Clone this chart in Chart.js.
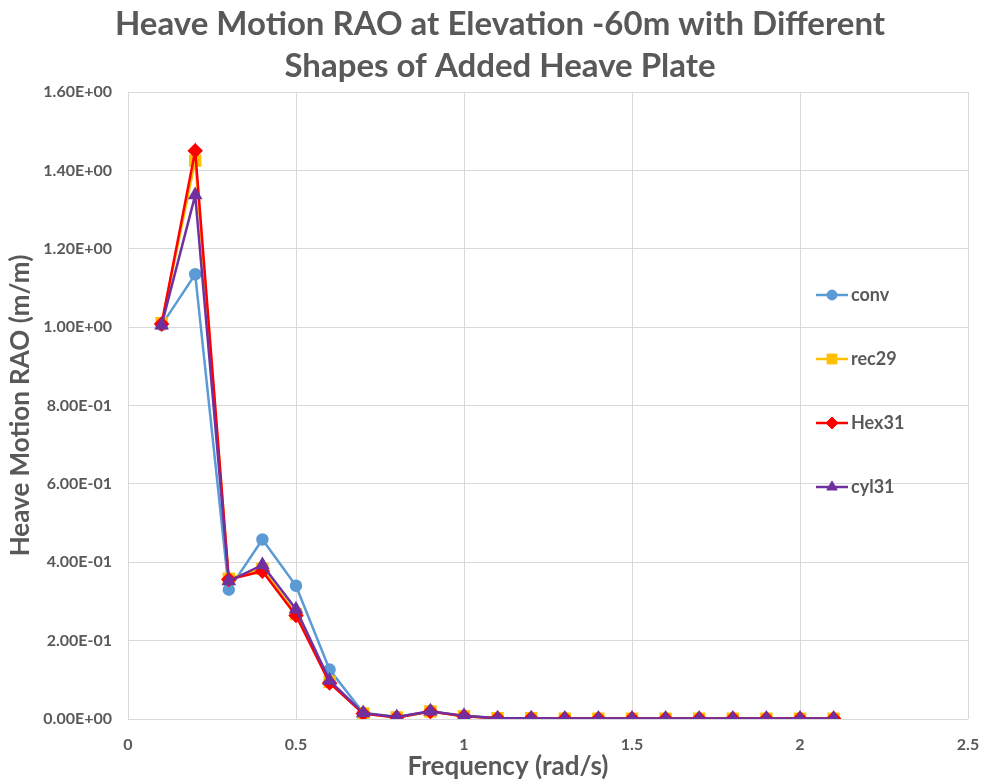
<!DOCTYPE html>
<html>
<head>
<meta charset="utf-8">
<script src="https://cdn.jsdelivr.net/npm/chart.js@4/dist/chart.umd.min.js"></script>
<style>
  html, body { margin: 0; padding: 0; background: #fff; }
  #wrap { width: 982px; height: 782px; }
</style>
</head>
<body>
<div id="wrap"><canvas id="raoChart"></canvas></div>
<script>
// Data
const freq = [0.1, 0.2, 0.3, 0.4, 0.5, 0.6, 0.7, 0.8, 0.9, 1.0, 1.1, 1.2, 1.3, 1.4, 1.5, 1.6, 1.7, 1.8, 1.9, 2.0, 2.1];
const conv  = [1.005, 1.135, 0.330, 0.458, 0.340, 0.126, 0.016, 0.005, 0.020, 0.008, 0.002, 0.002, 0.001, 0.001, 0.001, 0.001, 0.001, 0.001, 0.001, 0.001, 0.001];
const rec29 = [1.010, 1.425, 0.358, 0.383, 0.268, 0.095, 0.014, 0.004, 0.019, 0.007, 0.002, 0.002, 0.001, 0.001, 0.001, 0.001, 0.001, 0.001, 0.001, 0.001, 0.001];
const hex31 = [1.008, 1.450, 0.356, 0.377, 0.264, 0.092, 0.014, 0.004, 0.019, 0.007, 0.002, 0.002, 0.001, 0.001, 0.001, 0.001, 0.001, 0.001, 0.001, 0.001, 0.001];
const cyl31 = [1.005, 1.337, 0.352, 0.393, 0.280, 0.098, 0.015, 0.005, 0.020, 0.008, 0.002, 0.002, 0.001, 0.001, 0.001, 0.001, 0.001, 0.001, 0.001, 0.001, 0.001];

const seriesNames = ['conv', 'rec29', 'Hex31', 'cyl31'];
const seriesColors = ['#5B9BD5', '#FFC000', '#FF0000', '#7030A0'];
const seriesMarkers = ['circle', 'rect', 'rectRot', 'triangle'];
const seriesRadius = [5, 7, 6, 6];

const titleLines = ['Heave Motion RAO at Elevation -60m with Different', 'Shapes of Added Heave Plate'];

const textColor = '#595959';
const gridColor = '#d9d9d9';
const fontFamily = 'Lato, "Open Sans", sans-serif';

function toPoints(ys) {
  return freq.map((x, i) => ({ x: x, y: ys[i] }));
}

// 1.60E+00 style labels, like Excel
function sciLabel(v) {
  const parts = Number(v).toExponential(2).split('e');
  const exp = parseInt(parts[1], 10);
  return parts[0] + 'E' + (exp < 0 ? '-' : '+') + String(Math.abs(exp)).padStart(2, '0');
}

const allSeries = [conv, rec29, hex31, cyl31];
const datasets = allSeries.map((ys, i) => ({
  label: seriesNames[i],
  data: toPoints(ys),
  borderColor: seriesColors[i],
  backgroundColor: seriesColors[i],
  pointBackgroundColor: seriesColors[i],
  pointBorderColor: seriesColors[i],
  pointStyle: seriesMarkers[i],
  pointRadius: seriesRadius[i],
  borderWidth: 2.5,
  tension: 0,
  // later series drawn on top, as in Excel
  order: allSeries.length - 1 - i
}));

// Legend drawn inside the plot, line + marker per entry
const sideLegend = {
  id: 'sideLegend',
  afterDatasetsDraw(chart, args, opts) {
    const ctx = chart.ctx;
    ctx.save();
    chart.data.datasets.forEach((ds, i) => {
      const y = opts.top + i * opts.spacing;
      const x0 = opts.left;
      ctx.strokeStyle = ds.borderColor;
      ctx.fillStyle = ds.backgroundColor;
      ctx.lineWidth = 2.5;
      ctx.beginPath();
      ctx.moveTo(x0, y);
      ctx.lineTo(x0 + opts.lineLength, y);
      ctx.stroke();
      ctx.lineWidth = 1;
      Chart.helpers.drawPoint(ctx, {
        pointStyle: ds.pointStyle,
        radius: ds.pointRadius,
        rotation: 0,
        borderWidth: 1
      }, x0 + opts.lineLength / 2, y);
      ctx.fillStyle = textColor;
      ctx.font = 'bold 18px ' + fontFamily;
      ctx.textBaseline = 'middle';
      ctx.textAlign = 'left';
      ctx.fillText(ds.label, x0 + opts.lineLength + 3, y);
    });
    ctx.restore();
  }
};

// Chart title and x axis title, placed where the reference has them
const freeText = {
  id: 'freeText',
  afterDraw(chart, args, opts) {
    const ctx = chart.ctx;
    ctx.save();
    ctx.fillStyle = textColor;
    ctx.textAlign = 'center';
    ctx.textBaseline = 'middle';
    opts.items.forEach(item => {
      ctx.font = 'bold ' + item.size + 'px ' + fontFamily;
      ctx.fillText(item.text, item.x, item.y);
    });
    ctx.restore();
  }
};

new Chart(document.getElementById('raoChart'), {
  type: 'line',
  data: { datasets: datasets },
  plugins: [sideLegend, freeText],
  options: {
    responsive: true,
    maintainAspectRatio: false,
    animation: false,
    layout: { padding: { top: 92, right: 14, bottom: 0, left: 0 } },
    plugins: {
      legend: { display: false },
      tooltip: { enabled: false },
      title: { display: false },
      sideLegend: { left: 816, top: 295, spacing: 64, lineLength: 32 },
      freeText: {
        items: [
          { text: titleLines[0], x: 500, y: 24, size: 33 },
          { text: titleLines[1], x: 500, y: 66, size: 33 },
          { text: 'Frequency (rad/s)', x: 508, y: 767, size: 26 }
        ]
      }
    },
    scales: {
      x: {
        type: 'linear',
        min: 0,
        max: 2.5,
        afterFit(scale) {
          scale.height = 63;
          scale.paddingRight = 0;
        },
        ticks: {
          stepSize: 0.5,
          padding: 16,
          color: textColor,
          font: { family: fontFamily, size: 16, weight: 'bold' },
          callback: (v) => String(v)
        },
        grid: { color: gridColor, drawTicks: false },
        border: { display: false }
      },
      y: {
        min: 0,
        max: 1.6,
        afterFit(scale) { scale.width = 128; },
        ticks: {
          stepSize: 0.2,
          padding: 16,
          color: textColor,
          font: { family: fontFamily, size: 16, weight: 'bold' },
          callback: (v) => sciLabel(v)
        },
        grid: { color: gridColor, drawTicks: false },
        border: { display: false },
        title: {
          display: true,
          text: 'Heave Motion RAO (m/m)',
          color: textColor,
          font: { family: fontFamily, size: 26, weight: 'bold' },
          padding: { top: 5, bottom: 0 }
        }
      }
    }
  }
});
</script>
</body>
</html>
